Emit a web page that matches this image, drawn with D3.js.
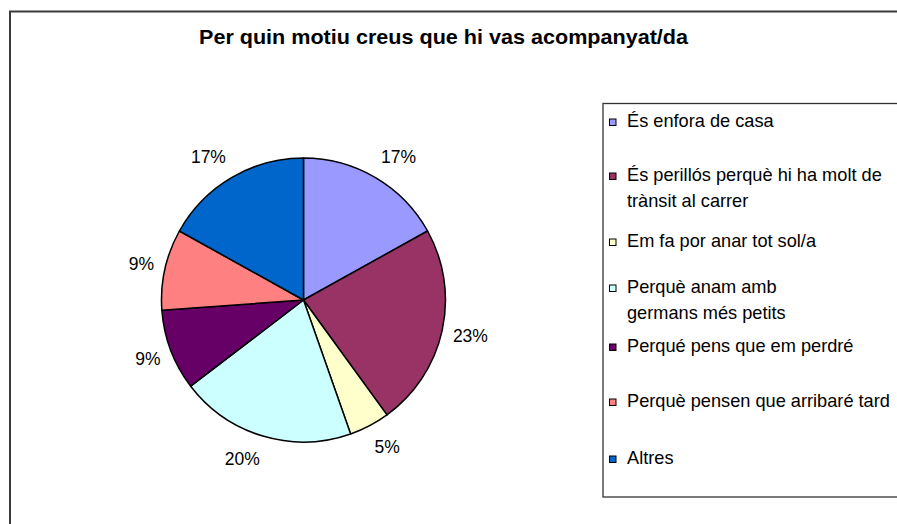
<!DOCTYPE html>
<html><head><meta charset="utf-8">
<script src="https://cdn.jsdelivr.net/npm/d3@7/dist/d3.min.js"></script>
<style>
html,body{margin:0;padding:0;background:#fff;}
svg{display:block;font-family:"Liberation Sans",Arial,sans-serif;}
</style></head>
<body>
<svg id="chart" width="897" height="524"></svg>
<script>
const title = "Per quin motiu creus que hi vas acompanyat/da";
const categories = [
  "És enfora de casa",
  "És perillós perquè hi ha molt de\ntrànsit al carrer",
  "Em fa por anar tot sol/a",
  "Perquè anam amb\ngermans més petits",
  "Perqué pens que em perdré",
  "Perquè pensen que arribaré tard",
  "Altres"
];
const values = [11, 15, 3, 13, 6, 6, 11];
const percentLabels = ["17%", "23%", "5%", "20%", "9%", "9%", "17%"];
const colors = ["#9999FF", "#993366", "#FFFFCC", "#CCFFFF", "#660066", "#FF8080", "#0066CC"];

// layout (not data)
const legendBaselines = [127, 181, 247, 293, 352, 407, 464];

const svg = d3.select("#chart");
const W = 897, H = 524;

// outer chart border
svg.append("rect").attr("x", 10).attr("y", 11.5).attr("width", W + 10).attr("height", H + 10)
  .attr("fill", "#fff").attr("stroke", "#3a3a3a").attr("stroke-width", 2);

// title
svg.append("text").attr("x", 443.5).attr("y", 44).attr("text-anchor", "middle")
  .attr("font-size", 21).attr("font-weight", "bold").attr("fill", "#000")
  .attr("textLength", 489).attr("lengthAdjust", "spacingAndGlyphs").text(title);

// pie
const cx = 303.5, cy = 300, R = 142;
const pie = d3.pie().sort(null).value(d => d);
const arcs = pie(values);
const arc = d3.arc().innerRadius(0).outerRadius(R);
const labelArc = d3.arc().innerRadius(156).outerRadius(156);

const g = svg.append("g").attr("transform", `translate(${cx},${cy})`);
g.selectAll("path.slice").data(arcs).join("path")
  .attr("class", "slice")
  .attr("d", arc)
  .attr("fill", (d, i) => colors[i])
  .attr("stroke", "#000").attr("stroke-width", 1.5).attr("stroke-linejoin", "round");

g.selectAll("text.pct").data(arcs).join("text")
  .attr("class", "pct")
  .each(function (d, i) {
    const a = (d.startAngle + d.endAngle) / 2;
    const p = labelArc.centroid(d);
    const s = Math.sin(a), c = Math.cos(a);
    d3.select(this)
      .attr("x", p[0] - 3 * s)
      .attr("y", p[1] - 10 * c + 6)
      .attr("text-anchor", s >= 0 ? "start" : "end");
  })
  .attr("font-size", 17.5).attr("fill", "#000")
  .text((d, i) => percentLabels[i]);

// legend
const lg = svg.append("g");
lg.append("rect").attr("x", 603).attr("y", 103.5).attr("width", 310).attr("height", 393.5)
  .attr("fill", "#fff").attr("stroke", "#333").attr("stroke-width", 1.3);

categories.forEach((cat, i) => {
  const yb = legendBaselines[i];
  lg.append("rect").attr("x", 609.5).attr("y", yb - 8).attr("width", 6.5).attr("height", 6.5)
    .attr("fill", colors[i]).attr("stroke", "#000").attr("stroke-width", 1);
  const lines = cat.split("\n");
  const t = lg.append("text").attr("font-size", 18.2).attr("fill", "#000");
  lines.forEach((ln, j) => {
    t.append("tspan").attr("x", 627).attr("y", yb + j * 25.5).text(ln);
  });
});
</script>
</body></html>
